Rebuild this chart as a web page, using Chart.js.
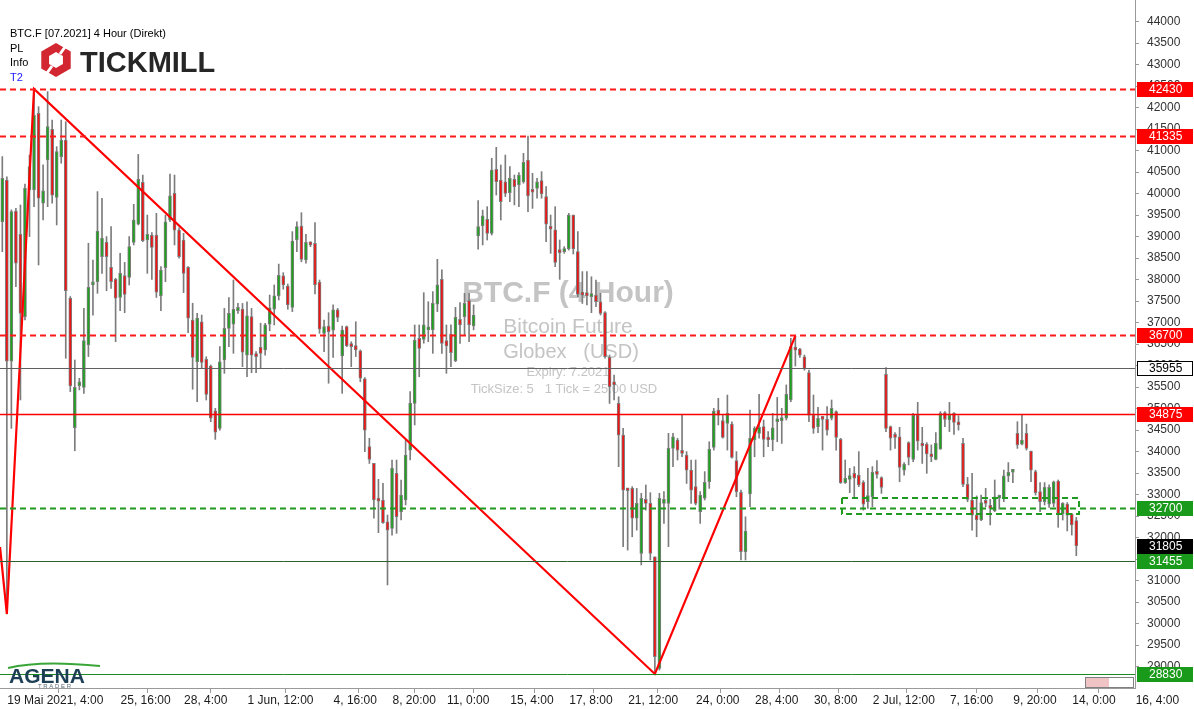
<!DOCTYPE html>
<html>
<head>
<meta charset="utf-8">
<script src="https://cdn.jsdelivr.net/npm/chart.js@4.4.0/dist/chart.umd.min.js"></script>
<style>
html, body { margin: 0; padding: 0; background: #fff; overflow: hidden; }
#wrap { width: 1194px; height: 709px; }
</style>
</head>
<body>
<div id="wrap"><canvas id="chart" width="1194" height="709"></canvas></div>
<script>
// BTC.F 4 Hour candles (one entry per bar)
var opens = [
 39345,40315,36105,39595,39050,37140,40085,40085,41865,39775,40780,41495,39910,40860,41245,37565,34555,35535,35495,36480,
 37875,37950,38535,38865,38285,38005,37585,38090,38050,38865,39290,40260,38920,39030,39035,37620,38275,39385,40005,39150,
 38920,38285,37060,36090,37020,36145,35990,34950,34540,36130,36865,36965,37275,37315,36245,37140,36245,36425,36365,36965,
 37310,37620,38085,37850,37355,38920,39245,38455,38865,38840,37935,36750,36920,36825,37295,36225,36905,36500,36465,36345,
 35690,34115,33725,32890,32875,32370,32215,33495,32595,32875,34035,35120,36635,36610,36830,36830,37430,38005,36580,36735,
 36115,37075,37140,37510,36920,39015,39255,39400,39075,40565,40315,40275,40020,40330,40200,40275,40780,40060,40120,40300,
 39930,39190,39155,38685,38650,38710,39500,38650,37680,37695,37605,37640,37485,37230,36190,35585,35120,34385,33125,33145,
 32450,31635,32890,32795,31555,28960,32795,32795,34075,34270,34000,33920,33570,33185,32605,32915,33300,34100,34965,34720,
 34655,34640,33790,33055,31675,33015,34270,34425,34580,34295,34270,34695,34720,34775,35200,36400,36385,36205,35835,34850,
 34580,34775,34750,34775,34930,34285,33280,33355,33495,33455,33285,32835,32950,33520,33395,35795,34580,34365,34345,33570,
 34210,33820,34850,34190,34175,33905,33820,34055,34905,34735,34890,34655,34190,33240,32875,32525,32410,32850,32695,32620,
 32915,32915,33435,33520,34425,34175,34425,34015,33535,33070,32835,32780,32795,33315,32550,32780,32550,32395
];
var highs = [
 40860,40390,39620,39655,39735,40220,40895,42430,42020,40665,42370,41710,41090,41710,41670,37605,36130,35705,37330,38845,
 38455,40045,39890,39000,39230,38030,38610,38400,39000,39750,40910,40430,39500,39090,39540,38300,39500,40455,40430,39205,
 39075,38300,37450,37215,37175,36205,36015,35005,36440,37330,37580,37990,37445,37445,37485,37330,36325,36985,36985,37640,
 37875,38360,38160,37895,39115,39345,39555,39050,38880,39325,37990,37060,37230,37410,37330,36920,36920,36555,37020,36365,
 35720,34310,33730,33355,33260,32525,33805,33805,33340,34270,35395,36945,36945,37695,37485,37720,38470,38225,36945,36945,
 37355,37465,37680,37680,37410,39835,39615,39695,40820,41075,40665,40895,40625,40430,40485,40935,41335,40470,40355,40510,
 40160,39500,39695,38920,38765,39540,39500,39115,38185,38185,38065,37990,37680,37255,36245,35780,35275,34540,33145,33185,
 33145,33030,33225,33045,31555,33030,33070,34425,34425,34310,34850,34000,33805,33805,33070,33535,34230,35005,35240,34850,
 35315,34695,34000,33105,32485,34965,34580,35330,34735,34465,34890,35260,35005,35550,36635,36690,36400,36245,35895,35315,
 35030,34775,35045,35200,34950,34310,33805,33610,33650,34000,33325,33610,33650,33790,33415,35955,34595,34440,34565,33745,
 34230,34890,35145,34565,34210,34155,34440,34930,34930,35145,34905,34835,34310,33400,33495,32970,32990,33145,32890,33340,
 32990,33570,33745,33570,34695,34850,34640,34015,33570,33280,33280,33225,33315,33340,32815,32815,32565,32470
];
var lows = [
 38650,30225,34540,37835,35200,37060,39000,39695,38340,39385,39695,39775,39270,40705,36170,35395,34020,35435,35355,36210,
 37175,37680,38145,37740,37795,36555,37275,37230,37875,38805,39270,38880,38145,38005,37585,37275,37950,39345,38805,38495,
 37695,36765,35450,35160,35935,35200,34695,34285,34500,35820,36440,36285,37215,35975,35740,35835,35835,35935,36245,36810,
 36945,37525,37775,37310,37255,38650,38415,38380,38765,37665,36750,36325,35590,36190,37020,35355,36440,35975,36210,35625,
 34000,33725,32450,32115,32330,30900,32060,32100,32410,32760,33805,34620,35740,36520,36555,36285,37255,36285,35820,35975,
 36090,36515,36710,36555,36830,38705,38805,38920,39035,39965,39385,39930,39810,39735,39695,40240,39580,39655,39890,39890,
 38880,38610,38300,38005,38610,38685,38595,37605,37445,37410,37230,37370,37175,36170,35120,35200,33650,31790,31710,32020,
 32175,31365,32640,31480,28830,28920,32330,31790,33650,33805,33880,33260,32795,32760,32330,32875,33145,34035,34620,34310,
 34035,33845,32950,31480,31480,32720,33880,34310,33880,34115,34020,34230,34190,34735,35160,35990,36190,35895,34695,34425,
 34440,34035,34385,34735,34035,33260,33260,33045,32950,33185,32640,32680,32720,33380,33030,34465,34035,34075,33300,33455,
 33690,33765,34035,33725,33495,33765,33805,34055,34580,34465,34400,34500,33185,32835,32175,32020,32395,32720,32295,32605,
 32660,32835,33300,33280,34075,34155,34035,33300,32990,32605,32760,32705,32720,32240,32410,32155,32060,31580
];
var closes = [
 40355,36105,39580,38380,37215,40120,40625,41825,39890,40065,41555,39965,40975,41245,37740,35525,35495,35625,36580,37820,
 37935,39130,38960,38535,37950,37565,38145,37655,38765,39385,40330,38905,39050,38750,37705,38220,39345,39945,39150,38535,
 38145,37100,36190,37100,36075,35330,34775,34450,36090,36865,37215,37310,37355,36310,37155,36245,36210,36285,36945,37345,
 37620,38100,37875,37410,38895,39230,38470,38865,38805,37875,36845,36905,36790,37295,37120,36825,36465,36440,36365,35705,
 34500,33820,32875,32850,32350,32175,33610,32485,32990,33920,35130,36595,36400,36945,36890,37445,37875,36515,36455,36300,
 37120,36945,37445,36945,37175,39230,39480,39075,40545,40275,39810,40005,40355,40160,40430,40725,39945,40030,40275,39990,
 39290,39170,38400,38625,38710,39500,38710,37655,37640,37620,37655,37485,37215,36205,35510,35550,34385,33105,33090,32450,
 32795,32915,32795,31635,29230,32915,32890,34075,34345,34035,33960,33570,33105,32795,32990,33285,34060,34945,34850,34330,
 34890,33865,33070,31675,32155,34310,34540,34565,34285,34270,34555,34720,34735,35330,36440,36360,36245,35935,34850,34540,
 34775,34750,34500,35005,34330,33280,33380,33440,33380,33225,32780,32975,33520,33470,33170,34540,34310,34330,33635,33705,
 33865,34850,34245,34130,33945,33880,34190,34890,34750,34850,34680,34620,33240,32890,32525,32410,32815,32795,32680,32950,
 32950,33435,33520,33570,34155,34270,34075,33570,33045,32835,33170,33170,33300,32550,32795,32525,32295,31805
];

// bottom axis: bar index of each time label and its text
var timeTickIdx = [0, 25, 39, 53, 72, 85, 97, 111, 124, 137, 152, 165, 178, 191, 208, 222, 235, 249];
var timeTickLabels = ['19 Mai 2021, 4:00', '25, 16:00', '28, 4:00', '1 Jun, 12:00', '4, 16:00', '8, 20:00',
  '11, 0:00', '15, 4:00', '17, 8:00', '21, 12:00', '24, 0:00', '28, 4:00', '30, 8:00', '2 Jul, 12:00',
  '7, 16:00', '9, 20:00', '14, 0:00', '16, 4:00'];

// right axis price ticks
var priceTicks = [];
for (var p = 29000; p <= 44000; p += 500) priceTicks.push(p);

// zigzag drawn on the chart (bar index / price)
var zigIdx = [-0.5, 1, 7, 144, 175];
var zigPrice = [31780, 30225, 42430, 28830, 36690];

// horizontal levels
var levelValues = [42430, 41335, 36700, 35955, 34875, 32700, 31455, 28830];
// support zone box (bar index range, price range)
var zoneIdx = [185.3, 237.6];
var zonePrice = [32549, 32921];

var levelStyles = [
  { line: '#ff1a1a', w: 2, dash: [6, 4], bg: '#ff0000', fg: '#ffffff' },
  { line: '#ff1a1a', w: 2, dash: [6, 4], bg: '#ff0000', fg: '#ffffff' },
  { line: '#ff1a1a', w: 2, dash: [6, 4], bg: '#ff0000', fg: '#ffffff' },
  { line: '#606060', w: 1, dash: [], bg: '#ffffff', fg: '#000000', border: '#000000' },
  { line: '#ff0000', w: 1.5, dash: [], bg: '#ff0000', fg: '#ffffff' },
  { line: '#1f9a1f', w: 2, dash: [6, 4], bg: '#1a9a1a', fg: '#ffffff' },
  { line: '#2f5f2f', w: 1, dash: [], bg: '#1a9a1a', fg: '#ffffff' },
  { line: '#1f8a1f', w: 1, dash: [], bg: '#1a9a1a', fg: '#ffffff' }
];

var FONT = '"Liberation Sans", Arial, sans-serif';

var bodyData = opens.map(function (o, i) { return { x: i, y: [o, closes[i]] }; });
var wickData = highs.map(function (h, i) { return { x: i, y: [lows[i], h] }; });
var bodyColors = opens.map(function (o, i) { return closes[i] >= o ? '#1fa31f' : '#f01414'; });
var zigData = zigIdx.map(function (x, i) { return { x: x, y: zigPrice[i] }; });

var decor = {
  id: 'decor',
  beforeDatasetsDraw: function (chart) {
    var c = chart.ctx;
    var cx = 568;
    c.save();
    c.textAlign = 'center';
    c.textBaseline = 'middle';
    c.fillStyle = '#c4c4c4';
    c.font = 'bold 30px ' + FONT;
    c.fillText('BTC.F (4 Hour)', cx, 294);
    c.font = '21px ' + FONT;
    c.fillText('Bitcoin Future', cx, 327);
    c.font = '20px ' + FONT;
    c.fillText('Globex   (USD)', cx + 3, 352);
    c.font = '13px ' + FONT;
    c.fillText('Expiry: 7.2021', cx, 372);
    c.fillText('TickSize: 5   1 Tick = 25.00 USD', cx - 4, 389);
    c.restore();
  },
  afterDatasetsDraw: function (chart) {
    var c = chart.ctx, a = chart.chartArea, ys = chart.scales.y, xs = chart.scales.x;
    c.save();
    levelValues.forEach(function (v, i) {
      var s = levelStyles[i], y = Math.round(ys.getPixelForValue(v)) + 0.5;
      c.strokeStyle = s.line;
      c.lineWidth = s.w;
      c.setLineDash(s.dash);
      c.beginPath();
      c.moveTo(a.left, y);
      c.lineTo(a.right, y);
      c.stroke();
    });
    // support zone
    c.strokeStyle = '#1f9a1f';
    c.lineWidth = 2;
    c.setLineDash([6, 4]);
    var x0 = xs.getPixelForValue(zoneIdx[0]), x1 = xs.getPixelForValue(zoneIdx[1]);
    var y0 = ys.getPixelForValue(zonePrice[1]), y1 = ys.getPixelForValue(zonePrice[0]);
    c.strokeRect(x0, y0, x1 - x0, y1 - y0);
    c.restore();
  },
  afterDraw: function (chart) {
    var c = chart.ctx, a = chart.chartArea, ys = chart.scales.y;
    c.save();
    // price boxes on the right axis
    var boxes = levelValues.map(function (v, i) { return { v: v, s: levelStyles[i] }; });
    boxes.push({ v: closes[closes.length - 1], s: { bg: '#000000', fg: '#ffffff' } });
    c.font = '12px ' + FONT;
    c.textBaseline = 'middle';
    c.textAlign = 'left';
    boxes.forEach(function (b) {
      var y = Math.round(ys.getPixelForValue(b.v));
      c.fillStyle = b.s.bg;
      c.fillRect(a.right + 2, y - 7, 56, 15);
      if (b.s.border) {
        c.strokeStyle = b.s.border;
        c.lineWidth = 1;
        c.strokeRect(a.right + 2.5, y - 6.5, 55, 14);
      }
      c.fillStyle = b.s.fg;
      c.fillText(String(b.v), a.right + 14, y + 1);
    });

    // header text
    c.fillStyle = '#000';
    c.font = '11px ' + FONT;
    c.fillText('BTC.F [07.2021] 4 Hour (Direkt)', 10, 34);
    c.fillText('PL', 10, 49);
    c.fillText('Info', 10, 63);
    c.fillStyle = '#1a1aff';
    c.fillText('T2', 10, 78);

    // Tickmill logo
    var lx = 56, ly = 60, r = 17, k, ang;
    c.fillStyle = '#d22630';
    c.beginPath();
    for (k = 0; k < 6; k++) {
      ang = Math.PI / 6 + k * Math.PI / 3;
      c.lineTo(lx + r * Math.cos(ang), ly + r * Math.sin(ang));
    }
    c.closePath();
    c.fill();
    c.fillStyle = '#ffffff';
    c.beginPath();
    for (k = 0; k < 6; k++) {
      ang = Math.PI / 6 + k * Math.PI / 3;
      c.lineTo(lx + 8 * Math.cos(ang), ly + 8 * Math.sin(ang));
    }
    c.closePath();
    c.fill();
    c.strokeStyle = '#ffffff';
    c.lineWidth = 3;
    c.beginPath();
    c.moveTo(lx + 4, ly - 6); c.lineTo(lx + 14, ly - 20);
    c.moveTo(lx - 4, ly + 6); c.lineTo(lx - 14, ly + 20);
    c.stroke();
    c.fillStyle = '#262626';
    c.font = 'bold 29px ' + FONT;
    c.textBaseline = 'alphabetic';
    c.fillText('TICKMILL', 80, 72);

    // AgenaTrader logo
    c.fillStyle = '#1d3f55';
    c.font = 'bold 21px ' + FONT;
    c.fillText('AGENA', 9, 683);
    c.strokeStyle = '#3aa63a';
    c.lineWidth = 2;
    c.beginPath();
    c.moveTo(8, 668); c.quadraticCurveTo(40, 660, 100, 666);
    c.stroke();
    c.fillStyle = '#5a6a74';
    c.font = '6px ' + FONT;
    c.fillText('T R A D E R', 38, 688);

    // small widget bottom right
    var wx = 1085, wy = 677;
    for (k = 0; k < 4; k++) {
      c.fillStyle = k < 2 ? '#f0c4c4' : '#ffffff';
      c.fillRect(wx + k * 12, wy, 12, 11);
    }
    c.strokeStyle = '#808080';
    c.lineWidth = 1;
    c.strokeRect(wx + 0.5, wy + 0.5, 48, 10);
    c.restore();
  }
};

var ctx = document.getElementById('chart').getContext('2d');
var chart = new Chart(ctx, {
  type: 'bar',
  data: {
    datasets: [{
      type: 'line',
      data: zigData,
      borderColor: '#ff0000',
      borderWidth: 2.2,
      pointRadius: 0,
      tension: 0,
      order: 0
    }, {
      data: bodyData,
      backgroundColor: bodyColors,
      borderColor: '#7c7c7c',
      borderWidth: 1,
      borderSkipped: false,
      barThickness: 3,
      minBarLength: 3,
      grouped: false,
      order: 1
    }, {
      data: wickData,
      backgroundColor: '#7c7c7c',
      borderWidth: 0,
      barThickness: 1,
      grouped: false,
      order: 2
    }]
  },
  options: {
    responsive: false,
    animation: false,
    devicePixelRatio: 1,
    layout: { padding: 0 },
    plugins: { legend: { display: false }, tooltip: { enabled: false } },
    scales: {
      x: {
        type: 'linear',
        min: -0.51,
        max: 249.95,
        offset: false,
        afterBuildTicks: function (s) { s.ticks = timeTickIdx.map(function (v) { return { value: v }; }); },
        afterFit: function (s) { s.height = 21; s.paddingLeft = 0; s.paddingRight = 0; },
        grid: { drawOnChartArea: false, tickLength: 5, color: '#9a9a9a' },
        border: { color: '#9a9a9a' },
        ticks: {
          autoSkip: false, maxRotation: 0, align: 'start', padding: 0, labelOffset: 5,
          color: '#1a1a1a', font: { size: 12, family: FONT },
          callback: function (v, i) { return timeTickLabels[i]; }
        }
      },
      y: {
        position: 'right',
        min: 28504,
        max: 44500,
        afterBuildTicks: function (s) { s.ticks = priceTicks.map(function (v) { return { value: v }; }); },
        afterFit: function (s) { s.width = 59; s.paddingTop = 0; s.paddingBottom = 0; },
        grid: { drawOnChartArea: false, tickLength: 4, color: '#9a9a9a' },
        border: { color: '#9a9a9a' },
        ticks: {
          padding: 8, color: '#333333', font: { size: 12, family: FONT },
          callback: function (v) { return String(v); }
        }
      }
    }
  },
  plugins: [decor]
});
</script>
</body>
</html>
